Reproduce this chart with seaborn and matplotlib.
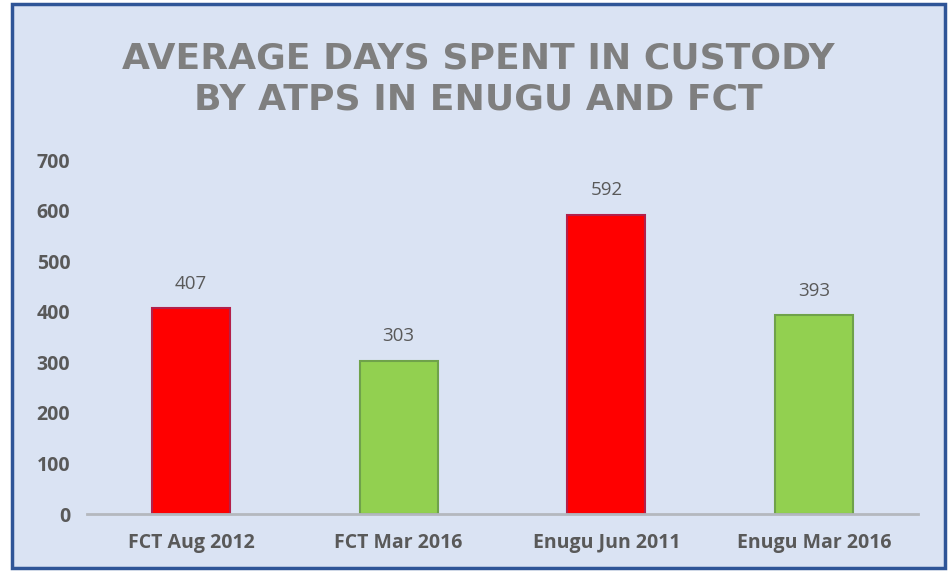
import seaborn as sns
import pandas as pd
import matplotlib.pyplot as plt
from matplotlib.patches import Rectangle

# data
periods = ["FCT Aug 2012", "FCT Mar 2016", "Enugu Jun 2011", "Enugu Mar 2016"]
avg_days = [407, 303, 592, 393]
bar_colors = ["#ff0000", "#92d050", "#ff0000", "#92d050"]
edge_colors = ["#b3204a", "#6fa24a", "#b3204a", "#6fa24a"]
y_ticks = [0, 100, 200, 300, 400, 500, 600, 700]

df = pd.DataFrame({"period": periods, "days": avg_days})

sns.set_style("white")
plt.rcParams["font.family"] = ["Open Sans", "DejaVu Sans"]

fig = plt.figure(figsize=(9.49, 5.71), dpi=100, facecolor="white")

# light blue panel with blue frame
fig.patches.append(Rectangle((12 / 949, 3 / 571), 933 / 949, 564 / 571,
                             transform=fig.transFigure, facecolor="#dae3f3",
                             edgecolor="#2f5597", linewidth=2.5, zorder=-10))

ax = fig.add_axes([87 / 949, 57 / 571, 831 / 949, 354 / 571])
ax.set_facecolor("none")

sns.barplot(data=df, x="period", y="days", hue="period", palette=bar_colors,
            legend=False, width=0.375, ax=ax, saturation=1)

for patch, ec in zip(ax.patches, edge_colors):
    patch.set_edgecolor(ec)
    patch.set_linewidth(1.5)

for i, v in enumerate(avg_days):
    ax.annotate(str(v), (i, v), xytext=(0, 11), textcoords="offset points",
                ha="center", va="bottom", fontsize=13.5, color="#595959")

ax.set_ylim(0, 700)
ax.set_xlim(-0.5, 3.5)
ax.set_yticks(y_ticks)
ax.set_yticklabels([str(t) for t in y_ticks], fontsize=14,
                   fontweight="bold", color="#595959")
ax.tick_params(axis="x", labelsize=14, colors="#595959", pad=14, length=0)
ax.tick_params(axis="y", pad=12, length=0)
for lbl in ax.get_xticklabels():
    lbl.set_fontweight("bold")
ax.set_xlabel("")
ax.set_ylabel("")

for side in ["top", "right", "left"]:
    ax.spines[side].set_visible(False)
ax.spines["bottom"].set_color("#b4b8be")
ax.spines["bottom"].set_linewidth(2)

fig.text(478 / 949, 1 - 79 / 571,
         "AVERAGE DAYS SPENT IN CUSTODY\nBY ATPS IN ENUGU AND FCT",
         ha="center", va="center", fontsize=26, fontweight="bold",
         color="#7f7f7f", linespacing=1.25, family=["DejaVu Sans"])

fig.savefig("out.png", dpi=100, facecolor="white")
